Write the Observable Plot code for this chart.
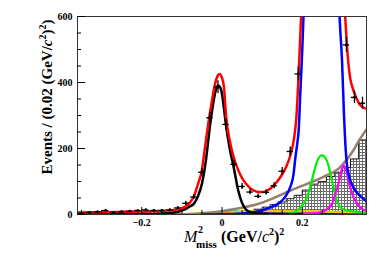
<!DOCTYPE html>
<html><head><meta charset="utf-8">
<script src="https://cdn.jsdelivr.net/npm/d3@7"></script>
<script src="https://cdn.jsdelivr.net/npm/@observablehq/plot@0.6"></script>
<style>html,body{margin:0;padding:0;background:#fff}svg{display:block}</style>
</head><body><div id="chart"></div>
<script>
// ---- data points (bin centers, events per 0.02) ----
const binX = [-0.35,-0.33,-0.31,-0.29,-0.27,-0.25,-0.23,-0.21,-0.19,-0.17,-0.15,-0.13,-0.11,-0.09,-0.07,-0.05,-0.03,-0.01,
  0.01,0.03,0.05,0.07,0.09,0.11,0.13,0.15,0.17,0.19,0.21,0.23,0.25,0.27,0.29,0.31,0.33,0.35];
const counts = [4,6,8,12,6,8,10,12,14,12,12,14,20,34,53,128,293,386,
  273,152,85,68,55,67,87,131,191,426,null,null,null,null,null,514,355,337];

// ---- hatched background histogram ----
const histX = [0.01,0.03,0.05,0.07,0.09,0.11,0.13,0.15,0.17,0.19,0.21,0.23,0.25,0.27,0.29,0.31,0.33,0.35];
const histV = [3,5,8,12,16,22,30,38,48,58,74,92,100,115,128,142,168,226];

// ---- fitted curves (sampled from the figure) ----
const redX = [-0.36,-0.3,-0.25,-0.2,-0.15,-0.12,-0.1,-0.09,-0.08,-0.07,-0.06,-0.05,-0.045,-0.04,-0.033,-0.025,-0.018,-0.01,-0.006,0.0,0.005,0.01,0.02,0.03,0.035,0.04,0.05,0.06,0.07,0.08,0.09,0.1,0.11,0.12,0.13,0.14,0.15,0.16,0.17,0.18,0.185,0.19,0.197,0.203,0.25,0.3,0.307,0.311,0.319,0.325,0.332,0.344,0.36];
const redY = [6,7,8,9,11,14,19,25,36,55,92,135,180,225,285,345,392,422,426,414,385,300,220,170,152,136,110,93,80,72,68,68,71,78,90,104,122,145,178,235,290,400,598,750,1300,750,598,517,416,385,361,332,320];

const blackX = [-0.36,-0.2,-0.14,-0.12,-0.1,-0.09,-0.08,-0.07,-0.06,-0.05,-0.04,-0.03,-0.02,-0.014,-0.009,-0.004,0.0,0.005,0.01,0.02,0.03,0.04,0.05,0.06,0.07,0.08,0.1,0.15,0.2];
const blackY = [0,2,4,6,12,17,24,33,55,93,165,268,350,383,391,384,365,320,270,195,138,75,35,15,8,5,2,0,0];

const blueX = [-0.05,0.0,0.06,0.08,0.1,0.12,0.145,0.16,0.17,0.178,0.183,0.188,0.191,0.195,0.2,0.203,0.21,0.25,0.29,0.293,0.299,0.304,0.308,0.311,0.318,0.327,0.337,0.348,0.36];
const blueY = [0,1,4,8,13,21,37,58,83,120,174,220,254,366,500,598,750,1300,700,598,467,300,200,154,110,83,65,52,40];

const greenX = [0.15,0.17,0.187,0.2,0.212,0.22,0.228,0.238,0.249,0.261,0.268,0.274,0.28,0.286,0.295,0.311,0.34,0.36];
const greenY = [0,3,12,28,52,85,123,164,179,164,135,103,70,42,22,12,8,6];

const magX = [0.2,0.23,0.245,0.26,0.274,0.282,0.29,0.297,0.303,0.309,0.315,0.321,0.328,0.336,0.344,0.357,0.36];
const magY = [2,4,7,15,32,60,93,130,148,135,103,75,52,35,22,12,11];

const brownX = [-0.36,-0.1,-0.05,0.0,0.046,0.087,0.129,0.17,0.212,0.253,0.294,0.327,0.344,0.36];
const brownY = [0,1,4,10,20,31,50,72,93,114,143,194,229,258];

const yellowX = [-0.36,-0.1,-0.05,0.0,0.04,0.08,0.12,0.2,0.28,0.36];
const yellowY = [1,1.5,3,6,9,11,11,10,8,6];

const cyanX = [-0.05,-0.02,0.0,0.02,0.035,0.05,0.07,0.1];
const cyanY = [0,3,10,15,12,5,1,0];

const navyX = [-0.36,-0.1,0.0,0.05,0.1,0.15,0.36];
const navyY = [1,1,3,6,4,3,2];

const tealX = [-0.36,0.0,0.2,0.36];
const tealY = [0.5,1,2,2.5];

// ---- axis ticks ----
const yMajor = [0,200,400,600];
const yMinor = [50,100,150,250,300,350,450,500,550];
const xMajor = [-0.2,0,0.2];
const xMinor = [-0.35,-0.3,-0.25,-0.15,-0.1,-0.05,0.05,0.1,0.15,0.25,0.3,0.35];

const pts = (xs, ys) => xs.map((x, i) => ({x, y: ys[i]}));
const dataRows = binX.map((x, i) => ({x, y: counts[i]})).filter(d => d.y != null);
const histRows = histX.map((x, i) => ({x, v: histV[i]}));
const halfBin = 0.01, halfErr = 0.008;

const curve = (xs, ys, stroke, w) => Plot.line(pts(xs, ys), {x: "x", y: "y", stroke, strokeWidth: w, curve: "monotone-x", clip: true});

const chart = Plot.plot({
  width: 382, height: 275,
  marginLeft: 77, marginRight: 16, marginTop: 16, marginBottom: 61,
  x: {domain: [-0.36, 0.36]},
  y: {domain: [0, 600]},
  style: {fontFamily: "'Liberation Serif', serif", fontWeight: "bold", fontSize: "10px", background: "#fff", color: "#000"},
  marks: [
    Plot.rectY(histRows, {x1: d => d.x - halfBin, x2: d => d.x + halfBin, y: "v", fill: "url(#checker)", clip: true}),
    Plot.line([...histRows.map(d => ({x: d.x - halfBin, v: d.v})), {x: histRows[histRows.length-1].x + halfBin, v: histRows[histRows.length-1].v}],
      {x: "x", y: "v", curve: "step-after", stroke: "#000", strokeWidth: 0.8, clip: true}),
    curve(tealX, tealY, "#008080", 1.5),
    curve(navyX, navyY, "#1a1a9a", 1.5),
    curve(cyanX, cyanY, "#00e5ee", 2),
    curve(yellowX, yellowY, "#f5c400", 2.2),
    curve(brownX, brownY, "#9a7d6b", 2.5),
    curve(greenX, greenY, "#00ee00", 2.2),
    curve(magX, magY, "#ff00ff", 2.2),
    curve(blueX, blueY, "#0000ff", 2.5),
    curve(blackX, blackY, "#000", 2.5),
    curve(redX, redY, "#ff0000", 2.5),
    Plot.ruleX(dataRows, {x: "x", y1: d => d.y - Math.sqrt(d.y), y2: d => d.y + Math.sqrt(d.y), stroke: "#000", strokeWidth: 1.3, clip: true}),
    Plot.ruleY(dataRows, {y: "y", x1: d => d.x - halfErr, x2: d => d.x + halfErr, stroke: "#000", strokeWidth: 1.3, clip: true}),
    Plot.dot(dataRows, {x: "x", y: "y", r: 1.3, fill: "#000", clip: true}),
    Plot.frame({stroke: "#333", strokeWidth: 1}),
    Plot.axisY(yMajor, {anchor: "left", tickSize: 8, dx: 8, tickFormat: () => "", label: null}),
    Plot.axisY(yMinor, {anchor: "left", tickSize: 4, dx: 4, tickFormat: () => "", label: null}),
    Plot.axisY(yMajor, {anchor: "left", tickSize: 0, tickPadding: 5, label: null}),
    Plot.axisX(xMajor, {anchor: "bottom", tickSize: 7, dy: -7, tickFormat: () => "", label: null}),
    Plot.axisX(xMinor, {anchor: "bottom", tickSize: 4, dy: -4, tickFormat: () => "", label: null}),
    Plot.axisX(xMajor, {anchor: "bottom", tickSize: 0, tickPadding: 4, label: null, tickFormat: d => d === 0 ? "0" : d3.format(".1f")(d).replace("-", "\u2212")})
  ]
});
document.getElementById("chart").appendChild(chart);

const svg = d3.select(chart);
const defs = svg.insert("defs", ":first-child");
const pat = defs.append("pattern").attr("id", "checker").attr("width", 3).attr("height", 3).attr("patternUnits", "userSpaceOnUse");
pat.append("rect").attr("width", 3).attr("height", 3).attr("fill", "#6a6a6a");
pat.append("rect").attr("width", 2).attr("height", 2).attr("fill", "#fff");

// y axis title
const yt = svg.append("text")
  .attr("transform", "translate(52,97) rotate(-90)")
  .attr("text-anchor", "middle")
  .attr("font-family", "'Liberation Serif', serif").attr("font-weight", "bold").attr("font-size", 15).attr("fill", "#000");
yt.append("tspan").text("Events / (0.02 (GeV/");
yt.append("tspan").attr("font-style", "italic").text("c");
yt.append("tspan").attr("font-size", 10).attr("dy", -6).text("2");
yt.append("tspan").attr("dy", 6).text(")");
yt.append("tspan").attr("font-size", 10).attr("dy", -6).text("2");
yt.append("tspan").attr("dy", 6).text(")");

// x axis title
const xg = svg.append("g").attr("font-family", "'Liberation Serif', serif").attr("font-weight", "bold").attr("fill", "#000").attr("text-anchor", "start");
xg.append("text").attr("x", 184).attr("y", 242).attr("font-size", 16).attr("font-style", "italic").attr("font-weight", "normal").text("M");
xg.append("text").attr("x", 198).attr("y", 233).attr("font-size", 10).text("2");
xg.append("text").attr("x", 196).attr("y", 248).attr("font-size", 11).text("miss");
const xt = xg.append("text").attr("x", 221).attr("y", 242).attr("font-size", 16);
xt.append("tspan").text("(GeV/");
xt.append("tspan").attr("font-style", "italic").attr("font-weight", "normal").text("c");
xt.append("tspan").attr("font-size", 10).attr("dy", -7).text("2");
xt.append("tspan").attr("dy", 7).text(")");
xt.append("tspan").attr("font-size", 10).attr("dy", -7).text("2");
</script>
</body></html>
